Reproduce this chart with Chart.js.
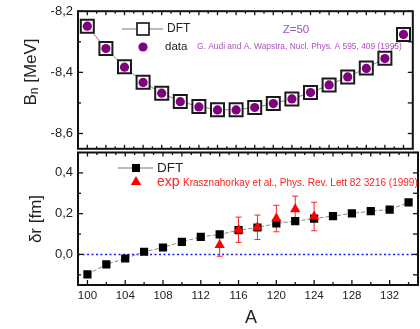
<!DOCTYPE html>
<html><head><meta charset="utf-8">
<script src="https://cdn.jsdelivr.net/npm/chart.js@4/dist/chart.umd.min.js"></script>
<style>
html,body{margin:0;padding:0;background:#fff;overflow:hidden;}
#wrap{position:relative;width:420px;height:329px;overflow:hidden;}
canvas{position:absolute;left:0;}
</style></head><body>
<div id="wrap">
<canvas id="top" width="424" height="160" style="top:0"></canvas>
<canvas id="bot" width="424" height="189" style="top:140px"></canvas>
</div>
<script>
// ---- data ----
const massNumbers = [100,102,104,106,108,110,112,114,116,118,120,122,124,126,128,130,132,134];
const bnDFT  = [-8.249,-8.322,-8.382,-8.432,-8.468,-8.495,-8.512,-8.522,-8.522,-8.515,-8.502,-8.487,-8.466,-8.441,-8.415,-8.386,-8.354,-8.276];
const bnData = [-8.249,-8.322,-8.383,-8.433,-8.468,-8.496,-8.513,-8.523,-8.523,-8.515,-8.502,-8.487,-8.466,-8.441,-8.415,-8.387,-8.355,-8.276];
const drDFT  = [-0.098,-0.049,-0.020,0.013,0.034,0.062,0.086,0.098,0.119,0.132,0.152,0.163,0.176,0.188,0.201,0.212,0.220,0.255];
const expA   = [114,116,118,120,122,124];
const drExp  = [0.046,0.121,0.133,0.176,0.222,0.186];
const drExpErr = [0.055,0.062,0.060,0.065,0.064,0.070];
const xTickLabels = [100,104,108,112,116,120,124,128,132];
const bnTicks = [-8.6,-8.4,-8.2];
const drTicks = [0.0,0.2,0.4];

const FONT = "'Liberation Sans', Arial, sans-serif";
const comma = v => Number(v).toFixed(1).replace('.', ',');

function pts(xs, ys){ return xs.map((x,i)=>({x:x, y:ys[i]})); }
function noPad(s){ s.paddingTop=0; s.paddingBottom=0; s.paddingLeft=0; s.paddingRight=0; }

function fitText(ctx, text, x, y, w, size, color){
  ctx.font = size + 'px ' + FONT;
  const m = ctx.measureText(text).width;
  const s = size * w / m;
  ctx.font = s + 'px ' + FONT;
  ctx.fillStyle = color; ctx.textAlign='left'; ctx.textBaseline='middle';
  ctx.fillText(text, x, y);
}

function frameTicks(chart, cfg){
  const ctx = chart.ctx, a = chart.chartArea;
  const xs = chart.scales.x, ys = chart.scales.y;
  ctx.save();
  ctx.strokeStyle = '#111'; ctx.lineWidth = 1.3;
  const tick = (x1,y1,x2,y2)=>{ctx.beginPath();ctx.moveTo(x1,y1);ctx.lineTo(x2,y2);ctx.stroke();};
  cfg.xTop.forEach(t=>{ const p=xs.getPixelForValue(t.v); tick(p,a.top,p,a.top+t.l); });
  cfg.xBot.forEach(t=>{ const p=xs.getPixelForValue(t.v); tick(p,a.bottom,p,a.bottom-t.l); });
  cfg.yL.forEach(t=>{ const p=ys.getPixelForValue(t.v); tick(a.left,p,a.left+t.l,p); });
  cfg.yR.forEach(t=>{ const p=ys.getPixelForValue(t.v); tick(a.right,p,a.right-t.l,p); });
  ctx.lineWidth = 2; ctx.strokeStyle = '#111';
  ctx.strokeRect(a.left, a.top, a.right-a.left, a.bottom-a.top);
  ctx.restore();
}

function range(a,b,s){const r=[];for(let v=a;v<=b+1e-9;v+=s)r.push(+v.toFixed(3));return r;}

// ---------------- TOP ----------------
const topTicks = {
  xTop: range(100,134,1).map(v=>({v, l: v%2===0?4:2.5})),
  xBot: range(100,134,1).map(v=>({v, l: v%2===0?4:2.5})),
  yL: range(-8.6,-8.2,0.1).map(v=>({v, l: Math.abs(Math.round(v*10))%2===0?5:3})),
  yR: range(-8.6,-8.2,0.1).map(v=>({v, l: 5}))
};
const topPlugin = {
  id:'topdeco',
  afterDraw(chart){
    frameTicks(chart, topTicks);
    const ctx = chart.ctx;
    ctx.save();
    ctx.translate(31, 72); ctx.rotate(-Math.PI/2);
    ctx.fillStyle = '#222'; ctx.textBaseline='middle'; ctx.textAlign='left';
    const big = '17px ' + FONT, small = '12px ' + FONT;
    ctx.font = big; const wB = ctx.measureText('B').width;
    ctx.font = small; const wn = ctx.measureText('n').width;
    ctx.font = big; const wR = ctx.measureText(' [MeV]').width;
    let x0 = -(wB+wn+wR)/2;
    ctx.font = big; ctx.fillText('B', x0, 0);
    ctx.font = small; ctx.fillText('n', x0+wB, 4);
    ctx.font = big; ctx.fillText(' [MeV]', x0+wB+wn, 0);
    ctx.restore();
    ctx.save();
    ctx.strokeStyle='#777'; ctx.lineWidth=1;
    ctx.beginPath(); ctx.moveTo(122,29); ctx.lineTo(163,29); ctx.stroke();
    ctx.fillStyle='#fff'; ctx.fillRect(137,23,12,12);
    ctx.strokeStyle='#111'; ctx.lineWidth=1.6; ctx.strokeRect(137,23,12,12);
    ctx.fillStyle='#800080'; ctx.beginPath(); ctx.arc(143,47,4.6,0,Math.PI*2); ctx.fill();
    ctx.fillStyle='#222'; ctx.textBaseline='middle'; ctx.textAlign='left';
    ctx.font='12px '+FONT; ctx.fillText('DFT',167,29);
    ctx.font='11.5px '+FONT; ctx.fillText('data',165,47);
    fitText(ctx,'G. Audi and A. Wapstra, Nucl. Phys. A 595, 409 (1995)',197,47,205,7.5,'#b050c0');
    ctx.font='11.5px '+FONT; ctx.fillStyle='#9a4fc9'; ctx.textAlign='center';
    ctx.fillText('Z=50',296,30);
    ctx.restore();
  }
};

new Chart(document.getElementById('top'), {
  type:'scatter',
  data:{datasets:[
    {label:'data', data:pts(massNumbers,bnData), showLine:false, pointStyle:'circle', pointRadius:4.6,
     pointBackgroundColor:'#800080', pointBorderColor:'#800080', pointBorderWidth:0},
    {label:'DFT', data:pts(massNumbers,bnDFT), showLine:true, borderColor:'#888', borderWidth:1,
     pointStyle:'rect', pointRadius:9.2, pointBackgroundColor:'#fff', pointBorderColor:'#1a1a1a', pointBorderWidth:2}
  ]},
  options:{
    responsive:false, animation:false, devicePixelRatio:1,
    layout:{padding:{top:10,bottom:7.5,right:3,left:0}},
    plugins:{legend:{display:false},tooltip:{enabled:false}},
    scales:{
      x:{type:'linear',min:99,max:135,display:false},
      y:{type:'linear',min:-8.65,max:-8.2,
        afterFit:s=>{s.width=78; noPad(s);},
        afterBuildTicks:s=>{s.ticks=bnTicks.map(v=>({value:v}));},
        grid:{display:false,drawTicks:false}, border:{display:false},
        ticks:{padding:5,color:'#222',font:{family:FONT,size:13},callback:v=>comma(v)}}
    }
  },
  plugins:[topPlugin]
});

// ---------------- BOTTOM ----------------
const botTicks = {
  xTop: range(100,134,1).map(v=>({v, l: v%2===0?4:2.5})),
  xBot: range(100,134,2).map(v=>({v, l: v%4===0?5:3})),
  yL: range(-0.1,0.5,0.1).map(v=>({v, l: Math.abs(Math.round(v*10))%2===0?5:3})),
  yR: range(-0.1,0.5,0.1).map(v=>({v, l: 5}))
};
const botBefore = {
  id:'botbefore',
  beforeDatasetsDraw(chart){
    const ctx=chart.ctx, a=chart.chartArea, ys=chart.scales.y, xs=chart.scales.x;
    ctx.save();
    const y0 = ys.getPixelForValue(0);
    ctx.strokeStyle='#1a1aff'; ctx.lineWidth=1.5; ctx.setLineDash([2,2.5]);
    ctx.beginPath(); ctx.moveTo(a.left,y0); ctx.lineTo(a.right,y0); ctx.stroke();
    ctx.setLineDash([]);
    ctx.strokeStyle='#ff2020'; ctx.lineWidth=1;
    expA.forEach((A,i)=>{
      const x=xs.getPixelForValue(A);
      const yt=ys.getPixelForValue(drExp[i]+drExpErr[i]);
      const yb=ys.getPixelForValue(drExp[i]-drExpErr[i]);
      ctx.beginPath(); ctx.moveTo(x,yt); ctx.lineTo(x,yb);
      ctx.moveTo(x-3,yt); ctx.lineTo(x+3,yt);
      ctx.moveTo(x-3,yb); ctx.lineTo(x+3,yb); ctx.stroke();
    });
    ctx.restore();
  }
};
const botPlugin = {
  id:'botdeco',
  afterDraw(chart){
    frameTicks(chart, botTicks);
    const ctx=chart.ctx;
    ctx.save();
    ctx.translate(36, 219-140); ctx.rotate(-Math.PI/2);
    ctx.fillStyle='#222'; ctx.font='17px '+FONT; ctx.textAlign='center'; ctx.textBaseline='middle';
    ctx.fillText('δr [fm]',0,0);
    ctx.restore();
    ctx.save();
    ctx.fillStyle='#222'; ctx.font='18px '+FONT; ctx.textAlign='center'; ctx.textBaseline='middle';
    ctx.fillText('A',251,318-140);
    const ly1=168-140, ly2=182-140;
    ctx.strokeStyle='#777'; ctx.lineWidth=1;
    ctx.beginPath(); ctx.moveTo(118,ly1); ctx.lineTo(153,ly1); ctx.stroke();
    ctx.fillStyle='#000'; ctx.fillRect(132,ly1-4,8,8);
    ctx.fillStyle='#ff0000'; ctx.beginPath();
    ctx.moveTo(136,ly2-6); ctx.lineTo(141.2,ly2+3); ctx.lineTo(130.8,ly2+3); ctx.closePath(); ctx.fill();
    ctx.fillStyle='#222'; ctx.textAlign='left'; ctx.textBaseline='middle';
    ctx.font='13.5px '+FONT; ctx.fillText('DFT',157,ly1);
    ctx.fillStyle='#ff2020'; ctx.font='14px '+FONT; ctx.fillText('exp',157,ly2);
    fitText(ctx,'Krasznahorkay et al., Phys. Rev. Lett 82 3216 (1999)',183,ly2+1,235,8.5,'#ff2020');
    ctx.restore();
  }
};

new Chart(document.getElementById('bot'), {
  type:'scatter',
  data:{datasets:[
    {label:'exp', data:pts(expA,drExp), showLine:false, pointStyle:'triangle', pointRadius:6,
     pointBackgroundColor:'#ff0000', pointBorderColor:'#ff0000', pointBorderWidth:0},
    {label:'DFT', data:pts(massNumbers,drDFT), showLine:true, borderColor:'#888', borderWidth:1, borderDash:[4,2],
     pointStyle:'rect', pointRadius:5.8, pointBackgroundColor:'#000', pointBorderColor:'#000', pointBorderWidth:0}
  ]},
  options:{
    responsive:false, animation:false, devicePixelRatio:1,
    layout:{padding:{top:12.5,bottom:0,right:3,left:0}},
    plugins:{legend:{display:false},tooltip:{enabled:false}},
    scales:{
      x:{type:'linear',min:99,max:135,
        afterFit:s=>{s.height=44; noPad(s);},
        afterBuildTicks:s=>{s.ticks=xTickLabels.map(v=>({value:v}));},
        grid:{display:false,drawTicks:false}, border:{display:false},
        ticks:{padding:4,color:'#222',autoSkip:false,maxRotation:0,font:{family:FONT,size:11.5},callback:v=>String(v)}},
      y:{type:'linear',min:-0.15,max:0.5,
        afterFit:s=>{s.width=78; noPad(s);},
        afterBuildTicks:s=>{s.ticks=drTicks.map(v=>({value:v}));},
        grid:{display:false,drawTicks:false}, border:{display:false},
        ticks:{padding:5,color:'#222',font:{family:FONT,size:13},callback:v=>comma(v)}}
    }
  },
  plugins:[botBefore, botPlugin]
});
</script>
</body></html>
